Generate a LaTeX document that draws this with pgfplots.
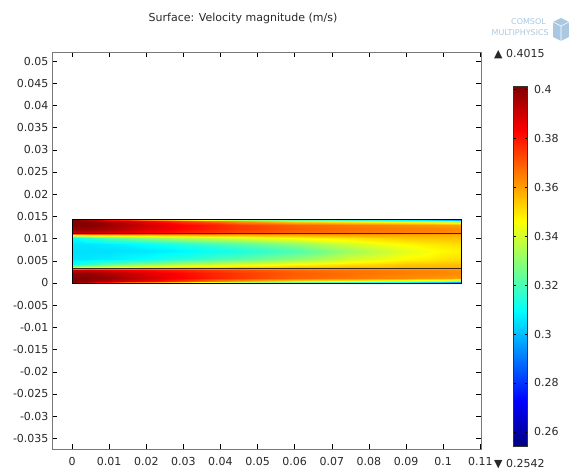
\documentclass[border=0pt]{standalone}
\usepackage{fontspec}
\setmainfont{DejaVu Sans}
\usepackage{pgfplots}
\pgfplotsset{compat=1.18}
\usetikzlibrary{calc}
\definecolor{lbl}{RGB}{40,40,40}
\definecolor{axgray}{RGB}{120,120,120}
\definecolor{logoblue}{RGB}{170,200,225}
\begin{document}
\begin{tikzpicture}
\begin{axis}[
  at={(52pt,24pt)}, anchor=south west,
  scale only axis, width=429pt, height=397pt,
  xmin=-0.0054, xmax=0.1102, ymin=-0.0374, ymax=0.05203,
  scaled x ticks=false, scaled y ticks=false,
  xtick={0,0.01,0.02,0.03,0.04,0.05,0.06,0.07,0.08,0.09,0.1,0.11},
  xticklabels={0,0.01,0.02,0.03,0.04,0.05,0.06,0.07,0.08,0.09,0.1,0.11},
  ytick={-0.035,-0.03,-0.025,-0.02,-0.015,-0.01,-0.005,0,0.005,0.01,0.015,0.02,0.025,0.03,0.035,0.04,0.045,0.05},
  yticklabels={-0.035,-0.03,-0.025,-0.02,-0.015,-0.01,-0.005,0,0.005,0.01,0.015,0.02,0.025,0.03,0.035,0.04,0.045,0.05},
  /pgf/number format/assume math mode=true,
  tick align=inside, major tick length=5pt,
  tick style={black, line width=0.5pt},
  axis line style={draw=axgray, line width=0.8pt},
  ticklabel style={font=\fontsize{11}{13}\selectfont, text=lbl},
  xticklabel style={yshift=-5pt},
  colormap/jet,
  point meta min=0.2542, point meta max=0.4015,
  colorbar,
  colorbar style={
    at={($(parent axis.south east)+(24pt,3pt)$)}, anchor=south west,
    scale only axis, width=14pt, height=360pt,
    scaled y ticks=false,
    ytick={0.26,0.28,0.3,0.32,0.34,0.36,0.38,0.4},
    yticklabels={0.26,0.28,0.3,0.32,0.34,0.36,0.38,0.4},
    ytick pos=both, yticklabel pos=right,
    tick align=inside, major tick length=2.5pt,
    tick style={black, line width=0.5pt},
    axis line style={draw=black!80, line width=0.5pt},
    yticklabel style={font=\fontsize{11}{13}\selectfont, text=lbl, xshift=3pt},
  },
]
\addplot[surf, shader=interp, point meta=explicit] table[x=x, y=y, meta=v] {
x y v
0 0 0.400
0 0.0004 0.401
0 0.0012 0.401
0 0.0022 0.398
0 0.0030 0.390
0 0.0034 0.345
0 0.0042 0.310
0 0.0055 0.306
0 0.00715 0.305
0 0.0088 0.306
0 0.0101 0.310
0 0.0109 0.345
0 0.0113 0.390
0 0.0121 0.398
0 0.0131 0.401
0 0.0139 0.401
0 0.0143 0.400

0.004 0 0.390
0.004 0.0004 0.400
0.004 0.0012 0.401
0.004 0.0022 0.398
0.004 0.0030 0.390
0.004 0.0034 0.350
0.004 0.0042 0.315
0.004 0.0055 0.306
0.004 0.00715 0.305
0.004 0.0088 0.306
0.004 0.0101 0.315
0.004 0.0109 0.350
0.004 0.0113 0.390
0.004 0.0121 0.398
0.004 0.0131 0.401
0.004 0.0139 0.400
0.004 0.0143 0.390

0.01 0 0.370
0.01 0.0004 0.395
0.01 0.0012 0.398
0.01 0.0022 0.395
0.01 0.0030 0.387
0.01 0.0034 0.352
0.01 0.0042 0.322
0.01 0.0055 0.307
0.01 0.00715 0.305
0.01 0.0088 0.307
0.01 0.0101 0.322
0.01 0.0109 0.352
0.01 0.0113 0.387
0.01 0.0121 0.395
0.01 0.0131 0.398
0.01 0.0139 0.395
0.01 0.0143 0.370

0.02 0 0.345
0.02 0.0004 0.385
0.02 0.0012 0.390
0.02 0.0022 0.388
0.02 0.0030 0.382
0.02 0.0034 0.354
0.02 0.0042 0.329
0.02 0.0055 0.310
0.02 0.00715 0.306
0.02 0.0088 0.310
0.02 0.0101 0.329
0.02 0.0109 0.354
0.02 0.0113 0.382
0.02 0.0121 0.388
0.02 0.0131 0.390
0.02 0.0139 0.385
0.02 0.0143 0.345

0.03 0 0.330
0.03 0.0004 0.375
0.03 0.0012 0.383
0.03 0.0022 0.382
0.03 0.0030 0.378
0.03 0.0034 0.355
0.03 0.0042 0.335
0.03 0.0055 0.315
0.03 0.00715 0.308
0.03 0.0088 0.315
0.03 0.0101 0.335
0.03 0.0109 0.355
0.03 0.0113 0.378
0.03 0.0121 0.382
0.03 0.0131 0.383
0.03 0.0139 0.375
0.03 0.0143 0.330

0.045 0 0.310
0.045 0.0004 0.360
0.045 0.0012 0.375
0.045 0.0022 0.375
0.045 0.0030 0.372
0.045 0.0034 0.356
0.045 0.0042 0.341
0.045 0.0055 0.322
0.045 0.00715 0.313
0.045 0.0088 0.322
0.045 0.0101 0.341
0.045 0.0109 0.356
0.045 0.0113 0.372
0.045 0.0121 0.375
0.045 0.0131 0.375
0.045 0.0139 0.360
0.045 0.0143 0.310

0.06 0 0.300
0.06 0.0004 0.350
0.06 0.0012 0.369
0.06 0.0022 0.370
0.06 0.0030 0.368
0.06 0.0034 0.357
0.06 0.0042 0.346
0.06 0.0055 0.330
0.06 0.00715 0.320
0.06 0.0088 0.330
0.06 0.0101 0.346
0.06 0.0109 0.357
0.06 0.0113 0.368
0.06 0.0121 0.370
0.06 0.0131 0.369
0.06 0.0139 0.350
0.06 0.0143 0.300

0.075 0 0.290
0.075 0.0004 0.345
0.075 0.0012 0.366
0.075 0.0022 0.367
0.075 0.0030 0.366
0.075 0.0034 0.358
0.075 0.0042 0.350
0.075 0.0055 0.340
0.075 0.00715 0.332
0.075 0.0088 0.340
0.075 0.0101 0.350
0.075 0.0109 0.358
0.075 0.0113 0.366
0.075 0.0121 0.367
0.075 0.0131 0.366
0.075 0.0139 0.345
0.075 0.0143 0.290

0.09 0 0.280
0.09 0.0004 0.340
0.09 0.0012 0.363
0.09 0.0022 0.365
0.09 0.0030 0.364
0.09 0.0034 0.358
0.09 0.0042 0.354
0.09 0.0055 0.347
0.09 0.00715 0.342
0.09 0.0088 0.347
0.09 0.0101 0.354
0.09 0.0109 0.358
0.09 0.0113 0.364
0.09 0.0121 0.365
0.09 0.0131 0.363
0.09 0.0139 0.340
0.09 0.0143 0.280

0.1 0 0.270
0.1 0.0004 0.335
0.1 0.0012 0.361
0.1 0.0022 0.364
0.1 0.0030 0.363
0.1 0.0034 0.358
0.1 0.0042 0.355
0.1 0.0055 0.350
0.1 0.00715 0.347
0.1 0.0088 0.350
0.1 0.0101 0.355
0.1 0.0109 0.358
0.1 0.0113 0.363
0.1 0.0121 0.364
0.1 0.0131 0.361
0.1 0.0139 0.335
0.1 0.0143 0.270

0.105 0 0.262
0.105 0.0004 0.330
0.105 0.0012 0.360
0.105 0.0022 0.363
0.105 0.0030 0.362
0.105 0.0034 0.358
0.105 0.0042 0.355
0.105 0.0055 0.351
0.105 0.00715 0.348
0.105 0.0088 0.351
0.105 0.0101 0.355
0.105 0.0109 0.358
0.105 0.0113 0.362
0.105 0.0121 0.363
0.105 0.0131 0.360
0.105 0.0139 0.330
0.105 0.0143 0.262
};
% interface lines
\addplot[draw=black!70!brown, line width=0.8pt, forget plot] coordinates {(0,0.0032) (0.105,0.0032)};
\addplot[draw=black!70!brown, line width=0.8pt, forget plot] coordinates {(0,0.0111) (0.105,0.0111)};
% domain boundary
\addplot[draw=black, line width=0.6pt, forget plot] coordinates {(0,0) (0.105,0) (0.105,0.0143) (0,0.0143) (0,0)};
\end{axis}
% title
\node[font=\fontsize{11}{13}\selectfont, text=lbl] at (243pt,455pt) {Surface: Velocity magnitude (m/s)};
% max/min annotations
\node[anchor=west, inner sep=0pt, font=\fontsize{11}{13}\selectfont, text=lbl] at (494pt,419pt) {▲ 0.4015};
\node[anchor=west, inner sep=0pt, font=\fontsize{11}{13}\selectfont, text=lbl] at (494pt,9pt) {▼ 0.2542};
% logo
\node[anchor=east, inner sep=0pt, font=\fontsize{8}{9}\selectfont, text=logoblue] at (546pt,451pt) {COMSOL};
\node[anchor=east, inner sep=0pt, font=\fontsize{8}{9}\selectfont, text=logoblue] at (549pt,440pt) {MULTIPHYSICS};
\fill[logoblue] (553pt,436pt) -- (561pt,432pt) -- (569pt,436pt) -- (569pt,451pt) -- (561pt,455pt) -- (553pt,451pt) -- cycle;
\draw[white, line width=0.6pt] (553pt,451pt) -- (561pt,447pt) -- (569pt,451pt) (561pt,447pt) -- (561pt,432pt);
\pgfresetboundingbox
\useasboundingbox (0pt,0pt) rectangle (569pt,473pt);
\end{tikzpicture}
\end{document}
